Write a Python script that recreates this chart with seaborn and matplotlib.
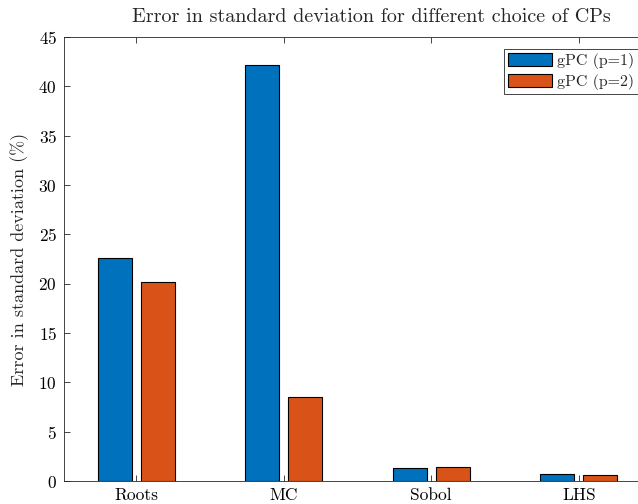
import numpy as np
import pandas as pd
import seaborn as sns
import matplotlib.pyplot as plt

methods = ["Roots", "MC", "Sobol", "LHS"]
series = ["gPC (p=1)", "gPC (p=2)"]
err_p1 = [22.6, 42.2, 1.3, 0.7]
err_p2 = [20.2, 8.5, 1.4, 0.6]
colors = ["#0072BD", "#D95319"]

df = pd.DataFrame({
    "method": methods * 2,
    "series": [series[0]] * 4 + [series[1]] * 4,
    "err": err_p1 + err_p2,
})

sns.set_style("ticks")
plt.rcParams["font.family"] = ["cmr10", "DejaVu Serif"]
plt.rcParams["mathtext.fontset"] = "cm"
plt.rcParams["axes.formatter.use_mathtext"] = True

fig = plt.figure(figsize=(6.38, 5.04), dpi=100)
ax = fig.add_axes([64 / 638, 23 / 504, 590 / 638, 444 / 504])

sns.barplot(data=df, x="method", y="err", hue="series", palette=colors,
            width=0.58, gap=0.2, edgecolor="black", linewidth=0.8,
            saturation=1, ax=ax)

ax.set_xlim(-0.49, 3.51)
ax.set_ylim(0, 45)
ax.set_yticks(np.arange(0, 46, 5))
ax.set_xlabel("")
ax.set_ylabel("Error in standard deviation (%)", fontsize=13, labelpad=7)
ax.tick_params(direction="in", length=4, labelsize=12.5, colors="#262626",
               top=True, right=False, width=0.6, pad=5)
for lab in ax.get_xticklabels() + ax.get_yticklabels():
    lab.set_color("black")
for side in ["left", "bottom", "top"]:
    ax.spines[side].set_color("#262626")
    ax.spines[side].set_linewidth(0.6)
ax.spines["right"].set_visible(False)

fig.text(371 / 638, 1 - 17 / 504, "Error in standard deviation for different choice of CPs",
         ha="center", va="center", fontsize=14.5)

leg = ax.legend(loc="upper right", bbox_to_anchor=(638 / 638, 1 - 49 / 504),
                bbox_transform=fig.transFigure, fontsize=11.5, frameon=True,
                fancybox=False, edgecolor="#262626", framealpha=1,
                handlelength=2.75, handleheight=0.875, handletextpad=0.3,
                borderpad=0.25, labelspacing=0.3, borderaxespad=0)
leg.get_frame().set_linewidth(0.6)

fig.savefig("out.png", dpi=100)
